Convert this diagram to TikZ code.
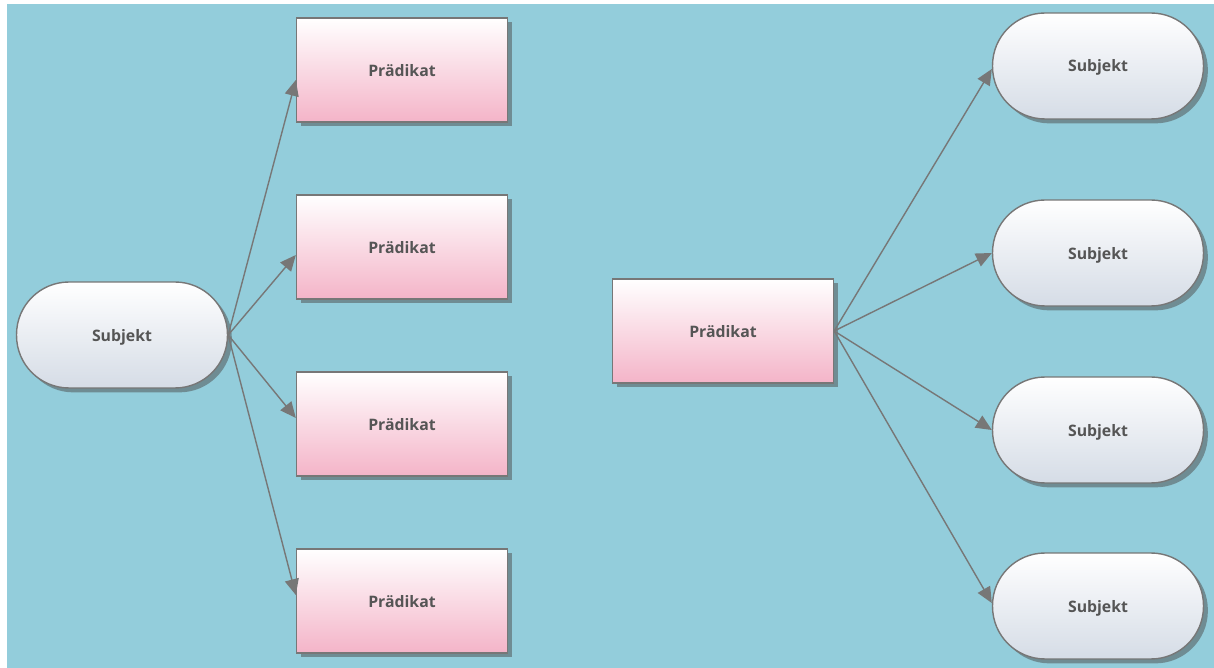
\documentclass[tikz,border=0pt]{standalone}
\usepackage{fontspec}
\setmainfont{Open Sans}
\usetikzlibrary{shadows,arrows.meta}
\definecolor{bg}{HTML}{93CDDB}
\definecolor{pinkb}{HTML}{F4B4C8}
\definecolor{subjb}{HTML}{D5DCE6}
\definecolor{edge}{HTML}{777777}
\definecolor{txt}{HTML}{555555}
\tikzset{
  pred/.style={rectangle, draw=edge, line width=0.8pt, top color=white, bottom color=pinkb,
    minimum width=4.22cm, minimum height=2.08cm, inner sep=0pt, text depth=-0.06cm,
    font=\fontsize{9}{11}\selectfont\bfseries, text=txt,
    drop shadow={shadow xshift=2.5pt, shadow yshift=-2.5pt, opacity=0.5, fill=black!70}},
  subj/.style={rectangle, rounded corners=1.05cm, draw=edge, line width=0.8pt, top color=white, bottom color=subjb,
    minimum width=4.22cm, minimum height=2.12cm, inner sep=0pt, text depth=-0.06cm,
    font=\fontsize{9}{11}\selectfont\bfseries, text=txt,
    drop shadow={shadow xshift=2.5pt, shadow yshift=-2.5pt, opacity=0.5, fill=black!70}},
  conn/.style={draw=edge, line width=0.8pt, -{Triangle[length=9pt,width=8pt]}}
}
\begin{document}
\begin{tikzpicture}[x=0.02cm,y=-0.02cm]
\useasboundingbox (0,0) rectangle (1214,668);
\fill[white] (0,0) rectangle (1214,668);
\fill[bg] (7,4) rectangle (1214,668);
\node[subj] (s0) at (122,335) {Subjekt};
\node[pred] (p1) at (402,70) {Prädikat};
\node[pred] (p2) at (402,247) {Prädikat};
\node[pred] (p3) at (402,424) {Prädikat};
\node[pred] (p4) at (402,601) {Prädikat};
\node[pred, minimum width=4.42cm] (pm) at (723,331) {Prädikat};
\node[subj] (s1) at (1098,66) {Subjekt};
\node[subj] (s2) at (1098,253) {Subjekt};
\node[subj] (s3) at (1098,430) {Subjekt};
\node[subj] (s4) at (1098,606) {Subjekt};
\draw[conn] (s0.east) -- ([yshift=-0.2cm]p1.west);
\draw[conn] (s0.east) -- ([yshift=-0.16cm]p2.west);
\draw[conn] (s0.east) -- ([yshift=0.12cm]p3.west);
\draw[conn] (s0.east) -- ([yshift=0.12cm]p4.west);
\draw[conn] (pm.east) -- ([yshift=-0.06cm]s1.west);
\draw[conn] (pm.east) -- (s2.west);
\draw[conn] (pm.east) -- (s3.west);
\draw[conn] (pm.east) -- ([yshift=0.06cm]s4.west);
\end{tikzpicture}
\end{document}
